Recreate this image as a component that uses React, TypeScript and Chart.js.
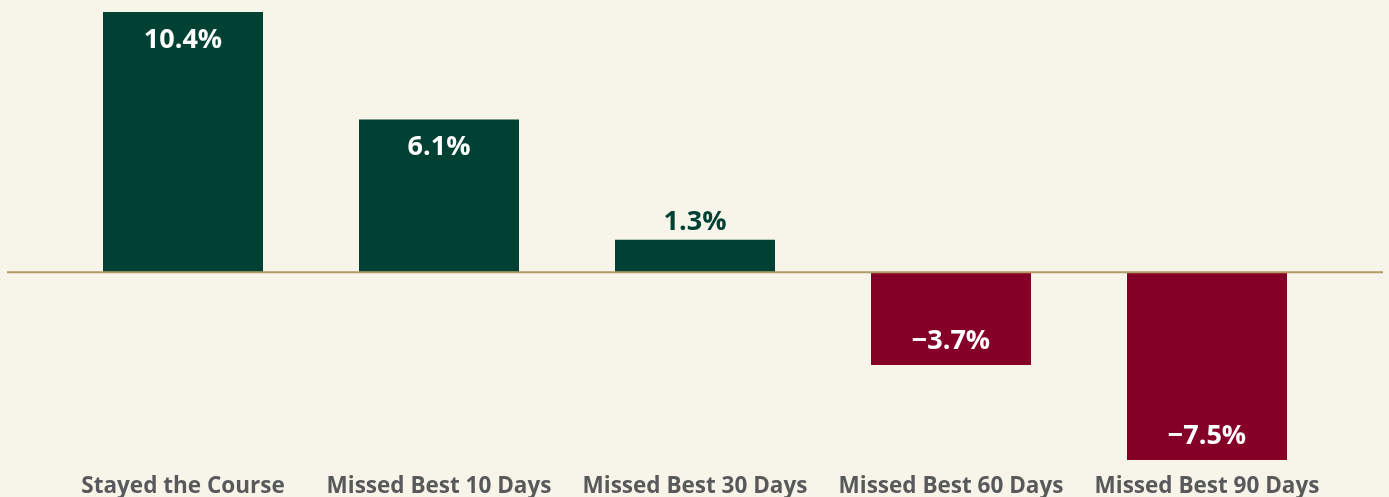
import React, { useEffect, useRef } from "react";
import { Chart, registerables } from "chart.js";

Chart.register(...registerables);

const categories = [
  "Stayed the Course",
  "Missed Best 10 Days",
  "Missed Best 30 Days",
  "Missed Best 60 Days",
  "Missed Best 90 Days",
];
const values = [10.4, 6.1, 1.3, -3.7, -7.5];
const valueLabels = ["10.4%", "6.1%", "1.3%", "\u22123.7%", "\u22127.5%"];

const BG = "#f7f4e9";
const GREEN = "#004134";
const RED = "#850027";
const LINE = "#b09c64";
const GRAY = "#58595b";
const FONT = "'Open Sans', 'Noto Sans', sans-serif";

const bgPlugin = {
  id: "bg",
  beforeDraw(chart: any) {
    const { ctx, width, height } = chart;
    ctx.save();
    ctx.fillStyle = BG;
    ctx.fillRect(0, 0, width, height);
    ctx.restore();
  },
};

const zeroLinePlugin = {
  id: "zeroLine",
  afterDatasetsDraw(chart: any) {
    const { ctx, chartArea } = chart;
    const y = chart.scales.y.getPixelForValue(0);
    const ext = (chartArea.right - chartArea.left) / 5 * 0.1875;
    ctx.save();
    ctx.strokeStyle = LINE;
    ctx.lineWidth = 2;
    ctx.beginPath();
    ctx.moveTo(chartArea.left - ext, y);
    ctx.lineTo(chartArea.right + ext, y);
    ctx.stroke();
    ctx.restore();
  },
};

const valueLabelPlugin = {
  id: "valueLabels",
  afterDatasetsDraw(chart: any) {
    const { ctx } = chart;
    const meta = chart.getDatasetMeta(0);
    ctx.save();
    ctx.font = `700 27px ${FONT}`;
    ctx.textAlign = "center";
    ctx.textBaseline = "middle";
    meta.data.forEach((bar: any, i: number) => {
      const v = values[i];
      const h = Math.abs(bar.base - bar.y);
      let y: number;
      let color = "#ffffff";
      if (h < 60) {
        color = v >= 0 ? GREEN : RED;
        y = v >= 0 ? bar.y - 17 : bar.y + 17;
      } else if (v >= 0) {
        y = bar.y + 28;
      } else {
        y = bar.y - 24;
      }
      ctx.fillStyle = color;
      ctx.fillText(valueLabels[i], bar.x, y);
    });
    ctx.restore();
  },
};

export default function App() {
  const ref = useRef<HTMLCanvasElement | null>(null);
  useEffect(() => {
    document.body.style.margin = "0";
    document.body.style.background = BG;
    const chart = new Chart(ref.current as HTMLCanvasElement, {
      type: "bar",
      data: {
        labels: categories,
        datasets: [
          {
            data: values,
            backgroundColor: values.map((v) => (v >= 0 ? GREEN : RED)),
            borderWidth: 0,
            categoryPercentage: 1,
            barPercentage: 0.625,
          },
        ],
      },
      options: {
        animation: false,
        responsive: true,
        maintainAspectRatio: false,
        layout: { padding: { top: 12, left: 55, right: 54, bottom: 0 } },
        plugins: {
          legend: { display: false },
          tooltip: { enabled: false },
        },
        scales: {
          x: {
            grid: { display: false, drawTicks: false },
            border: { display: false },
            ticks: {
              color: GRAY,
              font: { family: FONT, size: 22.5, weight: "bold" },
              padding: 13,
              maxRotation: 0,
              autoSkip: false,
            },
            afterFit(scale: any) {
              scale.height = 37;
            },
          },
          y: {
            display: false,
            min: -7.5,
            max: 10.4,
          },
        },
      },
      plugins: [bgPlugin, zeroLinePlugin, valueLabelPlugin],
    });
    return () => chart.destroy();
  }, []);
  return (
    <div style={{ position: "absolute", left: 0, top: 0, width: 1389, height: 497 }}>
      <canvas ref={ref} />
    </div>
  );
}
